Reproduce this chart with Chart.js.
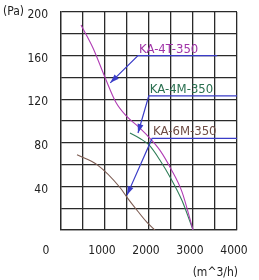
<!DOCTYPE html>
<html>
<head>
<meta charset="utf-8">
<script src="https://cdn.jsdelivr.net/npm/chart.js@4"></script>
<style>
html,body{margin:0;padding:0;background:#fff}
#wrap{width:259px;height:280px}
</style>
</head>
<body>
<div id="wrap"><canvas id="fanChart" width="259" height="280"></canvas></div>
<script>

// fan curves, flow in m^3/h, pressure in Pa
const ka4tFlow=[455,727,1000,1250,1500,1750,2000,2250,2500,2750,3000]
const ka4tPa=[188,167,140,117,104,95,85,73,56,35,0]

const ka4mFlow=[1568,1795,2000,2250,2500,2750,3000]
const ka4mPa=[89,84,78,64,47,27,0]

const ka6mFlow=[364,818,1341,1500,1750,1955,2136]
const ka6mPa=[69,60,39,30,17,7,0]

// callout labels: name, underline start (flow,Pa), underline end flow, arrow tip (flow,Pa)
const calloutNames=["KA-4T-350","KA-4M-350","KA-6M-350"]
const calloutStart=[[1750,160],[1995,123],[2070,84]]
const calloutEnd=[3550,4000,4000]
const calloutTip=[[1120,135],[1750,89],[1500,32]]

const xMax=4000
const yMax=200

const FONT="'Liberation Sans Narrow','DejaVu Sans Condensed',sans-serif"
const curveColors=["#b03cb4","#2f7d58","#7d5c52"]
const textColors=["#a034a8","#2a7050","#6e4c44"]
const arrowColor="#3a3cc8"

function pts(xs,ys){
return xs.map((x,i)=>({x:x,y:ys[i]}))
}

const calloutPlugin={
id:"callouts",
afterDatasetsDraw(chart){
const ctx=chart.ctx
const xs=chart.scales.x
const ys=chart.scales.y

ctx.save()
calloutNames.forEach((name,i)=>{

const sx=xs.getPixelForValue(calloutStart[i][0])
const sy=ys.getPixelForValue(calloutStart[i][1])
const ex=xs.getPixelForValue(calloutEnd[i])
const tx=xs.getPixelForValue(calloutTip[i][0])
const ty=ys.getPixelForValue(calloutTip[i][1])

ctx.strokeStyle=arrowColor
ctx.lineWidth=1.2
ctx.beginPath()
ctx.moveTo(ex,sy)
ctx.lineTo(sx,sy)
ctx.lineTo(tx,ty)
ctx.stroke()

// arrow head
const a=Math.atan2(ty-sy,tx-sx)
const len=9,half=3
ctx.fillStyle=arrowColor
ctx.beginPath()
ctx.moveTo(tx,ty)
ctx.lineTo(tx-len*Math.cos(a)+half*Math.sin(a),ty-len*Math.sin(a)-half*Math.cos(a))
ctx.lineTo(tx-len*Math.cos(a)-half*Math.sin(a),ty-len*Math.sin(a)+half*Math.cos(a))
ctx.closePath()
ctx.fill()

ctx.fillStyle=textColors[i]
ctx.font="13px "+FONT
ctx.textAlign="left"
ctx.textBaseline="alphabetic"
ctx.fillText(name,sx+1,sy-3)

})

// axis captions
ctx.fillStyle="#222"
ctx.font="12px "+FONT
ctx.textAlign="left"
ctx.textBaseline="middle"
ctx.fillText("(Pa)",3,12)
ctx.textAlign="center"
ctx.fillText("0",46,251)
ctx.textAlign="right"
ctx.fillText("(m^3/h)",238,273)
ctx.restore()
}
}

const lineStyle={
showLine:true,
borderWidth:1.1,
pointRadius:0,
fill:false,
tension:0.4,
cubicInterpolationMode:"monotone"
}

new Chart(document.getElementById("fanChart"),{
type:"scatter",
data:{
datasets:[
Object.assign({label:"KA-4T-350",data:pts(ka4tFlow,ka4tPa),borderColor:curveColors[0]},lineStyle),
Object.assign({label:"KA-4M-350",data:pts(ka4mFlow,ka4mPa),borderColor:curveColors[1]},lineStyle),
Object.assign({label:"KA-6M-350",data:pts(ka6mFlow,ka6mPa),borderColor:curveColors[2]},lineStyle)
]
},
options:{
responsive:false,
animation:false,
layout:{padding:{left:0,right:22,top:12,bottom:0}},
plugins:{legend:{display:false},tooltip:{enabled:false}},
scales:{
x:{
type:"linear",min:0,max:xMax,
afterFit(s){s.height=50;s.paddingLeft=0;s.paddingRight=0},
grid:{color:"#2a2a2a",lineWidth:1.3,drawTicks:false},
border:{color:"#2a2a2a",width:1.3},
ticks:{
stepSize:500,
padding:14,
labelOffset:-3,
color:"#222",
font:{family:FONT,size:12},
maxRotation:0,
autoSkip:false,
callback:v=>(v>0&&v%1000===0)?String(v):""
}
},
y:{
min:0,max:yMax,
afterFit(s){s.width=61;s.paddingTop=0;s.paddingBottom=0},
grid:{color:"#2a2a2a",lineWidth:1.3,drawTicks:false},
border:{color:"#2a2a2a",width:1.3},
ticks:{
stepSize:20,
padding:13,
labelOffset:3,
color:"#222",
font:{family:FONT,size:12},
autoSkip:false,
callback:v=>(v>0&&v%40===0)?String(v):""
}
}
}
},
plugins:[calloutPlugin]
})

</script>
</body>
</html>
